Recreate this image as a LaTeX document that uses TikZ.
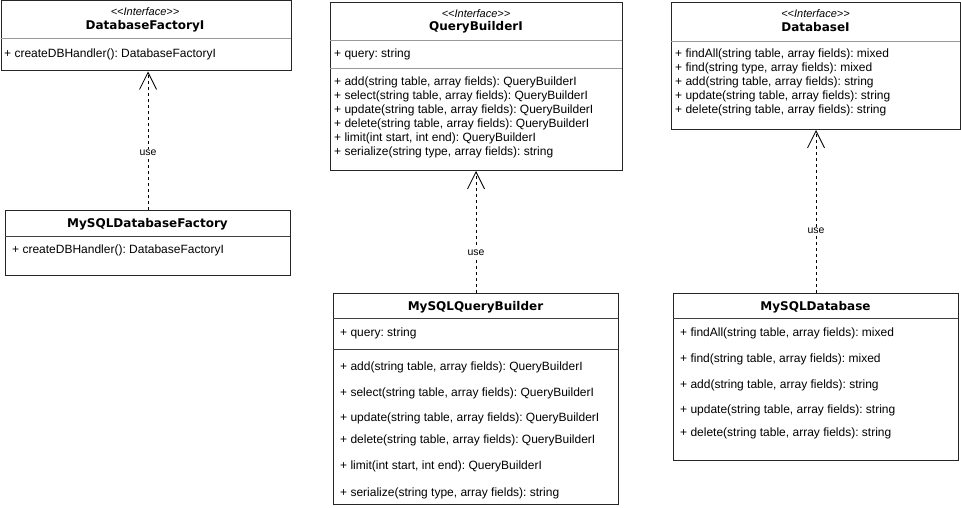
\documentclass[tikz,border=0pt]{standalone}
\usepackage{fontspec}
\setmainfont{Liberation Sans}
\newfontfamily\headfont{DejaVu Sans}
\usetikzlibrary{positioning, arrows.meta}
\frenchspacing

\tikzset{
    classbox/.style={draw=black!85, line width=1pt, fill=white, anchor=north west, inner sep=0pt},
    divider/.style={draw=black!40, line width=0.8pt},
    darkdivider/.style={draw=black!75, line width=0.8pt},
    classname/.style={inner sep=0pt, yshift=-1.5pt, font=\headfont\bfseries\fontsize{12}{14}\selectfont},
    stereo/.style={inner sep=0pt, yshift=-1pt, font=\itshape\fontsize{11}{13}\selectfont},
    member/.style={anchor=west, inner sep=0pt, yshift=-1pt, font=\fontsize{12}{14}\selectfont},
    realize/.style={draw=black, line width=0.8pt, dash pattern=on 3pt off 3pt,
        -{Straight Barb[length=17pt, width=17pt, line width=0.8pt]}},
    uselabel/.style={fill=white, inner sep=1.5pt, font=\fontsize{10.5}{12}\selectfont}
}

\begin{document}
\begin{tikzpicture}[x=1pt, y=-1pt]

    % Fix the page to the size of the reference
    \useasboundingbox (0,0) rectangle (961,508);

    % Interface DatabaseFactoryI (top left)
    \node[classbox, minimum width=290, minimum height=70] (dbfI) at (0.5,0.5) {};
    \node[stereo] (dbfIStereo) at (145,11) {{<}{<}Interface{>}{>}};
    \node[classname] (dbfITitle) at (145,25) {DatabaseFactoryI};
    \draw[divider] (0.5,38) -- (290.5,38);
    \node[member] (dbfIm1) at (4,53) {+ createDBHandler(): DatabaseFactoryI};

    % Class MySQLDatabaseFactory
    \node[classbox, minimum width=285, minimum height=65] (mdbf) at (5,210) {};
    \node[classname] (mdbfTitle) at (147.5,223) {MySQLDatabaseFactory};
    \draw[darkdivider] (5,236) -- (290,236);
    \node[member] (mdbfm1) at (12,249) {+ createDBHandler(): DatabaseFactoryI};

    % Interface QueryBuilderI (top middle)
    \node[classbox, minimum width=292, minimum height=168] (qbI) at (330,2) {};
    \node[stereo] (qbIStereo) at (476,13) {{<}{<}Interface{>}{>}};
    \node[classname] (qbITitle) at (476,26) {QueryBuilderI};
    \draw[divider] (330,40) -- (622,40);
    \node[member] (qbIf1) at (334,53) {+ query: string};
    \draw[divider] (330,68) -- (622,68);
    \node[member] (qbIm1) at (334,81) {+ add(string table, array fields): QueryBuilderI};
    \node[member] (qbIm2) at (334,95) {+ select(string table, array fields): QueryBuilderI};
    \node[member] (qbIm3) at (334,109) {+ update(string table, array fields): QueryBuilderI};
    \node[member] (qbIm4) at (334,123) {+ delete(string table, array fields): QueryBuilderI};
    \node[member] (qbIm5) at (334,137) {+ limit(int start, int end): QueryBuilderI};
    \node[member] (qbIm6) at (334,151) {+ serialize(string type, array fields): string};

    % Class MySQLQueryBuilder
    \node[classbox, minimum width=285, minimum height=211] (mqb) at (333,293) {};
    \node[classname] (mqbTitle) at (475.5,306) {MySQLQueryBuilder};
    \draw[darkdivider] (333,318) -- (618,318);
    \node[member] (mqbf1) at (340,332) {+ query: string};
    \draw[darkdivider] (333,349) -- (618,349);
    \node[member] (mqbm1) at (340,366) {+ add(string table, array fields): QueryBuilderI};
    \node[member] (mqbm2) at (340,392) {+ select(string table, array fields): QueryBuilderI};
    \node[member] (mqbm3) at (340,417) {+ update(string table, array fields): QueryBuilderI};
    \node[member] (mqbm4) at (340,439) {+ delete(string table, array fields): QueryBuilderI};
    \node[member] (mqbm5) at (340,465) {+ limit(int start, int end): QueryBuilderI};
    \node[member] (mqbm6) at (340,492) {+ serialize(string type, array fields): string};

    % Interface DatabaseI (top right)
    \node[classbox, minimum width=289, minimum height=127] (dbI) at (671,2) {};
    \node[stereo] (dbIStereo) at (815.5,13) {{<}{<}Interface{>}{>}};
    \node[classname] (dbITitle) at (815.5,26) {DatabaseI};
    \draw[divider] (671,41) -- (960,41);
    \node[member] (dbIm1) at (675,53) {+ findAll(string table, array fields): mixed};
    \node[member] (dbIm2) at (675,67) {+ find(string type, array fields): mixed};
    \node[member] (dbIm3) at (675,81) {+ add(string table, array fields): string};
    \node[member] (dbIm4) at (675,95) {+ update(string table, array fields): string};
    \node[member] (dbIm5) at (675,109) {+ delete(string table, array fields): string};

    % Class MySQLDatabase
    \node[classbox, minimum width=285, minimum height=167] (mdb) at (673,293) {};
    \node[classname] (mdbTitle) at (815.5,306) {MySQLDatabase};
    \draw[darkdivider] (673,318) -- (958,318);
    \node[member] (mdbm1) at (680,332) {+ findAll(string table, array fields): mixed};
    \node[member] (mdbm2) at (680,358) {+ find(string table, array fields): mixed};
    \node[member] (mdbm3) at (680,384) {+ add(string table, array fields): string};
    \node[member] (mdbm4) at (680,409) {+ update(string table, array fields): string};
    \node[member] (mdbm5) at (680,432) {+ delete(string table, array fields): string};

    % Dashed "use" links from each class up to its interface
    \draw[realize] (mdbf.north) -- node[uselabel, pos=0.41] (use1) {use} (mdbf.north |- dbfI.south);
    \draw[realize] (mqb.north) -- node[uselabel, pos=0.33] (use2) {use} (mqb.north |- qbI.south);
    \draw[realize] (mdb.north) -- node[uselabel, pos=0.38] (use3) {use} (mdb.north |- dbI.south);

\end{tikzpicture}
\end{document}
